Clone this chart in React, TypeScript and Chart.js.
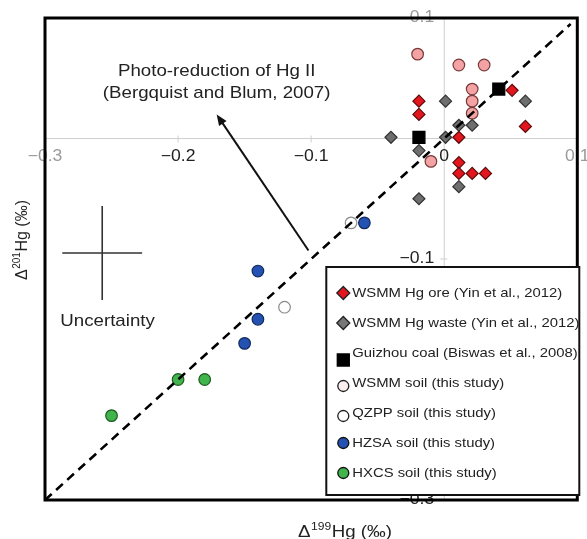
import React, { useEffect, useRef } from "react";
import { Chart, registerables } from "chart.js";
Chart.register(...registerables);

// ---------- axes ----------
const xLimits = [-0.3, 0.1];
const yLimits = [-0.3, 0.1];
const xTickValues = [-0.3, -0.2, -0.1, 0, 0.1];
const xTickLabels = ["\u22120.3", "\u22120.2", "\u22120.1", "0", "0.1"];
const yTickValues = [0.1, -0.1, -0.2, -0.3];
const yTickLabels = ["0.1", "\u22120.1", "\u22120.2", "\u22120.3"];

// ---------- series ----------
const seriesNames = [
  "WSMM Hg ore (Yin et al., 2012)",
  "WSMM Hg waste (Yin et al., 2012)",
  "Guizhou coal (Biswas et al., 2008)",
  "WSMM soil (this study)",
  "QZPP soil (this study)",
  "HZSA soil (this study)",
  "HXCS soil (this study)",
];

const oreX = [-0.019, -0.019, 0.051, 0.061, 0.011, 0.011, 0.011, 0.021, 0.031];
const oreY = [0.031, 0.020, 0.040, 0.010, 0.001, -0.020, -0.029, -0.029, -0.029];

const wasteX = [0.001, 0.061, 0.011, 0.021, -0.040, 0.001, -0.019, 0.011, -0.019];
const wasteY = [0.031, 0.031, 0.011, 0.011, 0.001, 0.001, -0.010, -0.040, -0.050];

const coalX = [-0.019, 0.041];
const coalY = [0.001, 0.041];

const wsmmSoilX = [-0.020, 0.011, 0.030, 0.021, 0.021, 0.021, -0.010];
const wsmmSoilY = [0.070, 0.061, 0.061, 0.041, 0.031, 0.021, -0.019];

const qzppSoilX = [-0.070, -0.120];
const qzppSoilY = [-0.070, -0.140];

const hzsaSoilX = [-0.060, -0.140, -0.140, -0.150];
const hzsaSoilY = [-0.070, -0.110, -0.150, -0.170];

const hxcsSoilX = [-0.200, -0.180, -0.250];
const hxcsSoilY = [-0.200, -0.200, -0.230];

// 1:1 reference line
const oneToOneX = [-0.3, 0.095];
const oneToOneY = [-0.3, 0.095];

// annotations (data units)
const arrowFrom = [-0.102, -0.093];
const arrowTo = [-0.171, 0.020];
const photoText = ["Photo-reduction of Hg II", "(Bergquist and Blum, 2007)"];
const photoTextX = -0.171;
const photoTextY = [0.0556, 0.0373];
const uncertaintyCenter = [-0.257, -0.095];
const uncertaintyHalf = [0.030, 0.039];
const uncertaintyLabel = "Uncertainty";
const uncertaintyLabelPos = [-0.253, -0.152];

const xTitleMain = ["\u0394", "199", "Hg (\u2030)"];
const yTitleMain = ["\u0394", "201", "Hg (\u2030)"];

const FONT = "'Liberation Sans', Arial, sans-serif";
const SX = 1.1;

const styles = [
  { shape: "diamond", fill: "#e3151d", stroke: "#5c0a0a", r: 6 },
  { shape: "diamond", fill: "#6e6e6e", stroke: "#333333", r: 6 },
  { shape: "square", fill: "#000000", stroke: "#000000", r: 8.5 },
  { shape: "circle", fill: "#f3a3a3", stroke: "#7a3a3a", r: 5.8 },
  { shape: "circle", fill: "#ffffff", stroke: "#8a8a8a", r: 5.8 },
  { shape: "circle", fill: "#2452b2", stroke: "#13295e", r: 5.8 },
  { shape: "circle", fill: "#41b44b", stroke: "#1d5a20", r: 5.8 },
];
const legendStyles = [
  { shape: "diamond", fill: "#e3151d", stroke: "#222", r: 6.5 },
  { shape: "diamond", fill: "#777777", stroke: "#222", r: 6.5 },
  { shape: "square", fill: "#000000", stroke: "#000", r: 6 },
  { shape: "circle", fill: "#fbefef", stroke: "#222", r: 5.5 },
  { shape: "circle", fill: "#ffffff", stroke: "#222", r: 5.5 },
  { shape: "circle", fill: "#2452b2", stroke: "#111", r: 5.5 },
  { shape: "circle", fill: "#41b44b", stroke: "#111", r: 5.5 },
];

function pts(xs: number[], ys: number[]) {
  return xs.map((x, i) => ({ x, y: ys[i] }));
}

function text(ctx: CanvasRenderingContext2D, t: string, x: number, y: number, size: number, align: CanvasTextAlign, color: string) {
  ctx.save();
  ctx.translate(x, y);
  ctx.scale(SX, 1);
  ctx.font = `${size}px ${FONT}`;
  ctx.textAlign = align;
  ctx.textBaseline = "middle";
  ctx.fillStyle = color;
  ctx.fillText(t, 0, 0);
  ctx.restore();
}

function drawTitle(ctx: CanvasRenderingContext2D, parts: string[], size: number, stretch: number) {
  const sup = Math.round(size * 0.64);
  ctx.font = `${size}px ${FONT}`;
  const w0 = ctx.measureText(parts[0]).width;
  const w2 = ctx.measureText(parts[2]).width;
  ctx.font = `${sup}px ${FONT}`;
  const w1 = ctx.measureText(parts[1]).width;
  const total = w0 + w1 + w2 + 1;
  ctx.save();
  ctx.scale(stretch, 1);
  ctx.fillStyle = "#222";
  ctx.textBaseline = "alphabetic";
  ctx.textAlign = "left";
  let x = -total / 2;
  const base = size * 0.36;
  ctx.font = `${size}px ${FONT}`;
  ctx.fillText(parts[0], x, base);
  x += w0 + 0.5;
  ctx.font = `${sup}px ${FONT}`;
  ctx.fillText(parts[1], x, base - size * 0.42);
  x += w1 + 0.5;
  ctx.font = `${size}px ${FONT}`;
  ctx.fillText(parts[2], x, base);
  ctx.restore();
}

function marker(ctx: CanvasRenderingContext2D, s: any, x: number, y: number) {
  ctx.beginPath();
  if (s.shape === "diamond") {
    ctx.moveTo(x, y - s.r);
    ctx.lineTo(x + s.r, y);
    ctx.lineTo(x, y + s.r);
    ctx.lineTo(x - s.r, y);
    ctx.closePath();
  } else if (s.shape === "square") {
    ctx.rect(x - s.r, y - s.r, 2 * s.r, 2 * s.r);
  } else {
    ctx.arc(x, y, s.r, 0, Math.PI * 2);
  }
  ctx.fillStyle = s.fill;
  ctx.fill();
  ctx.lineWidth = 1.3;
  ctx.strokeStyle = s.stroke;
  ctx.stroke();
}

const overlay = {
  id: "overlay",
  beforeDatasetsDraw(chart: any) {
    const { ctx, chartArea: ca, scales } = chart;
    const xs = scales.x, ys = scales.y;
    const x0 = xs.getPixelForValue(0);
    const y0 = ys.getPixelForValue(0);
    ctx.save();
    ctx.strokeStyle = "#cfcfcf";
    ctx.lineWidth = 1;
    ctx.beginPath();
    ctx.moveTo(ca.left, y0);
    ctx.lineTo(ca.right, y0);
    ctx.moveTo(x0, ca.top);
    ctx.lineTo(x0, ca.bottom);
    xTickValues.forEach((v) => {
      const px = xs.getPixelForValue(v);
      ctx.moveTo(px, y0 - 3);
      ctx.lineTo(px, y0 + 4);
    });
    yTickValues.forEach((v) => {
      const py = ys.getPixelForValue(v);
      ctx.moveTo(x0 - 4, py);
      ctx.lineTo(x0 + 3, py);
    });
    ctx.stroke();
    xTickValues.forEach((v, i) => {
      const px = xs.getPixelForValue(v);
      const edge = i === 0 || i === xTickValues.length - 1;
      text(ctx, xTickLabels[i], px, y0 + 18, 16, "center", edge ? "#9a9a9a" : "#222");
    });
    yTickValues.forEach((v, i) => {
      const py = ys.getPixelForValue(v);
      const edge = i === 0;
      text(ctx, yTickLabels[i], x0 - 10, py, 16, "right", edge ? "#9a9a9a" : "#222");
    });
    // uncertainty cross
    const cx = xs.getPixelForValue(uncertaintyCenter[0]);
    const cy = ys.getPixelForValue(uncertaintyCenter[1]);
    const hx1 = xs.getPixelForValue(uncertaintyCenter[0] - uncertaintyHalf[0]);
    const hx2 = xs.getPixelForValue(uncertaintyCenter[0] + uncertaintyHalf[0]);
    const vy1 = ys.getPixelForValue(uncertaintyCenter[1] + uncertaintyHalf[1]);
    const vy2 = ys.getPixelForValue(uncertaintyCenter[1] - uncertaintyHalf[1]);
    ctx.strokeStyle = "#333";
    ctx.lineWidth = 1.6;
    ctx.beginPath();
    ctx.moveTo(hx1, cy);
    ctx.lineTo(hx2, cy);
    ctx.moveTo(cx, vy1);
    ctx.lineTo(cx, vy2);
    ctx.stroke();
    text(ctx, uncertaintyLabel, xs.getPixelForValue(uncertaintyLabelPos[0]), ys.getPixelForValue(uncertaintyLabelPos[1]), 17, "center", "#222");
    photoText.forEach((t, i) => {
      text(ctx, t, xs.getPixelForValue(photoTextX), ys.getPixelForValue(photoTextY[i]), 17, "center", "#222");
    });
    // arrow
    const ax1 = xs.getPixelForValue(arrowFrom[0]);
    const ay1 = ys.getPixelForValue(arrowFrom[1]);
    const ax2 = xs.getPixelForValue(arrowTo[0]);
    const ay2 = ys.getPixelForValue(arrowTo[1]);
    const ang = Math.atan2(ay2 - ay1, ax2 - ax1);
    const hl = 11, hw = 4.5;
    const bx = ax2 - Math.cos(ang) * hl;
    const by = ay2 - Math.sin(ang) * hl;
    ctx.strokeStyle = "#111";
    ctx.lineWidth = 2;
    ctx.beginPath();
    ctx.moveTo(ax1, ay1);
    ctx.lineTo(bx + Math.cos(ang) * 2, by + Math.sin(ang) * 2);
    ctx.stroke();
    ctx.fillStyle = "#111";
    ctx.beginPath();
    ctx.moveTo(ax2, ay2);
    ctx.lineTo(bx - Math.sin(ang) * hw, by + Math.cos(ang) * hw);
    ctx.lineTo(bx + Math.sin(ang) * hw, by - Math.cos(ang) * hw);
    ctx.closePath();
    ctx.fill();
    ctx.restore();
  },
  afterDatasetsDraw(chart: any) {
    const { ctx, chartArea: ca } = chart;
    ctx.save();
    ctx.strokeStyle = "#000";
    ctx.lineWidth = 3;
    ctx.strokeRect(ca.left, ca.top, ca.right - ca.left, ca.bottom - ca.top);
    // legend
    const lr = ca.right + 2;
    const lb = ca.bottom - 5;
    const ll = lr - 253;
    const lt = lb - 228;
    ctx.fillStyle = "#fff";
    ctx.fillRect(ll, lt, lr - ll, lb - lt);
    ctx.strokeStyle = "#111";
    ctx.lineWidth = 2;
    ctx.strokeRect(ll, lt, lr - ll, lb - lt);
    seriesNames.forEach((name, i) => {
      const ty = lt + 26 + i * 30;
      const my = i === 2 ? ty + 7 : i === 3 || i === 4 ? ty + 3 : ty;
      marker(ctx, legendStyles[i], ll + 17, my);
      text(ctx, name, ll + 26, ty, 13.5, "left", "#222");
    });
    // axis titles
    ctx.save();
    ctx.translate(345, 531);
    drawTitle(ctx, xTitleMain, 17, SX);
    ctx.restore();
    ctx.save();
    ctx.translate(21, 240);
    ctx.rotate(-Math.PI / 2);
    drawTitle(ctx, yTitleMain, 16, 1);
    ctx.restore();
    ctx.restore();
  },
};

export default function App() {
  const ref = useRef<HTMLCanvasElement | null>(null);
  useEffect(() => {
    if (!ref.current) return;
    const series = [
      pts(oreX, oreY),
      pts(wasteX, wasteY),
      pts(coalX, coalY),
      pts(wsmmSoilX, wsmmSoilY),
      pts(qzppSoilX, qzppSoilY),
      pts(hzsaSoilX, hzsaSoilY),
      pts(hxcsSoilX, hxcsSoilY),
    ];
    const pointStyleOf = (s: string) => (s === "diamond" ? "rectRot" : s === "square" ? "rect" : "circle");
    const datasets: any[] = [
      {
        label: "1:1",
        data: pts(oneToOneX, oneToOneY),
        showLine: true,
        borderColor: "#000",
        borderWidth: 2.6,
        borderDash: [9, 6],
        pointRadius: 0,
        fill: false,
      },
      ...series.map((d, i) => ({
        label: seriesNames[i],
        data: d,
        showLine: false,
        pointStyle: pointStyleOf(styles[i].shape),
        pointRadius: styles[i].r,
        backgroundColor: styles[i].fill,
        borderColor: styles[i].stroke,
        borderWidth: 1.2,
      })),
    ];
    const chart = new Chart(ref.current, {
      type: "scatter",
      data: { datasets },
      options: {
        animation: false,
        responsive: false,
        maintainAspectRatio: false,
        devicePixelRatio: 1,
        layout: { padding: { left: 45, top: 18, right: 6, bottom: 39 } },
        scales: {
          x: { type: "linear", min: xLimits[0], max: xLimits[1], display: false },
          y: { type: "linear", min: yLimits[0], max: yLimits[1], display: false },
        },
        plugins: { legend: { display: false }, tooltip: { enabled: false } },
      },
      plugins: [overlay],
    });
    return () => chart.destroy();
  }, []);
  return (
    <div style={{ position: "absolute", left: 0, top: 0, width: 587, height: 539, background: "#fff" }}>
      <canvas ref={ref} width={587} height={539} style={{ display: "block", width: 587, height: 539 }} />
    </div>
  );
}
